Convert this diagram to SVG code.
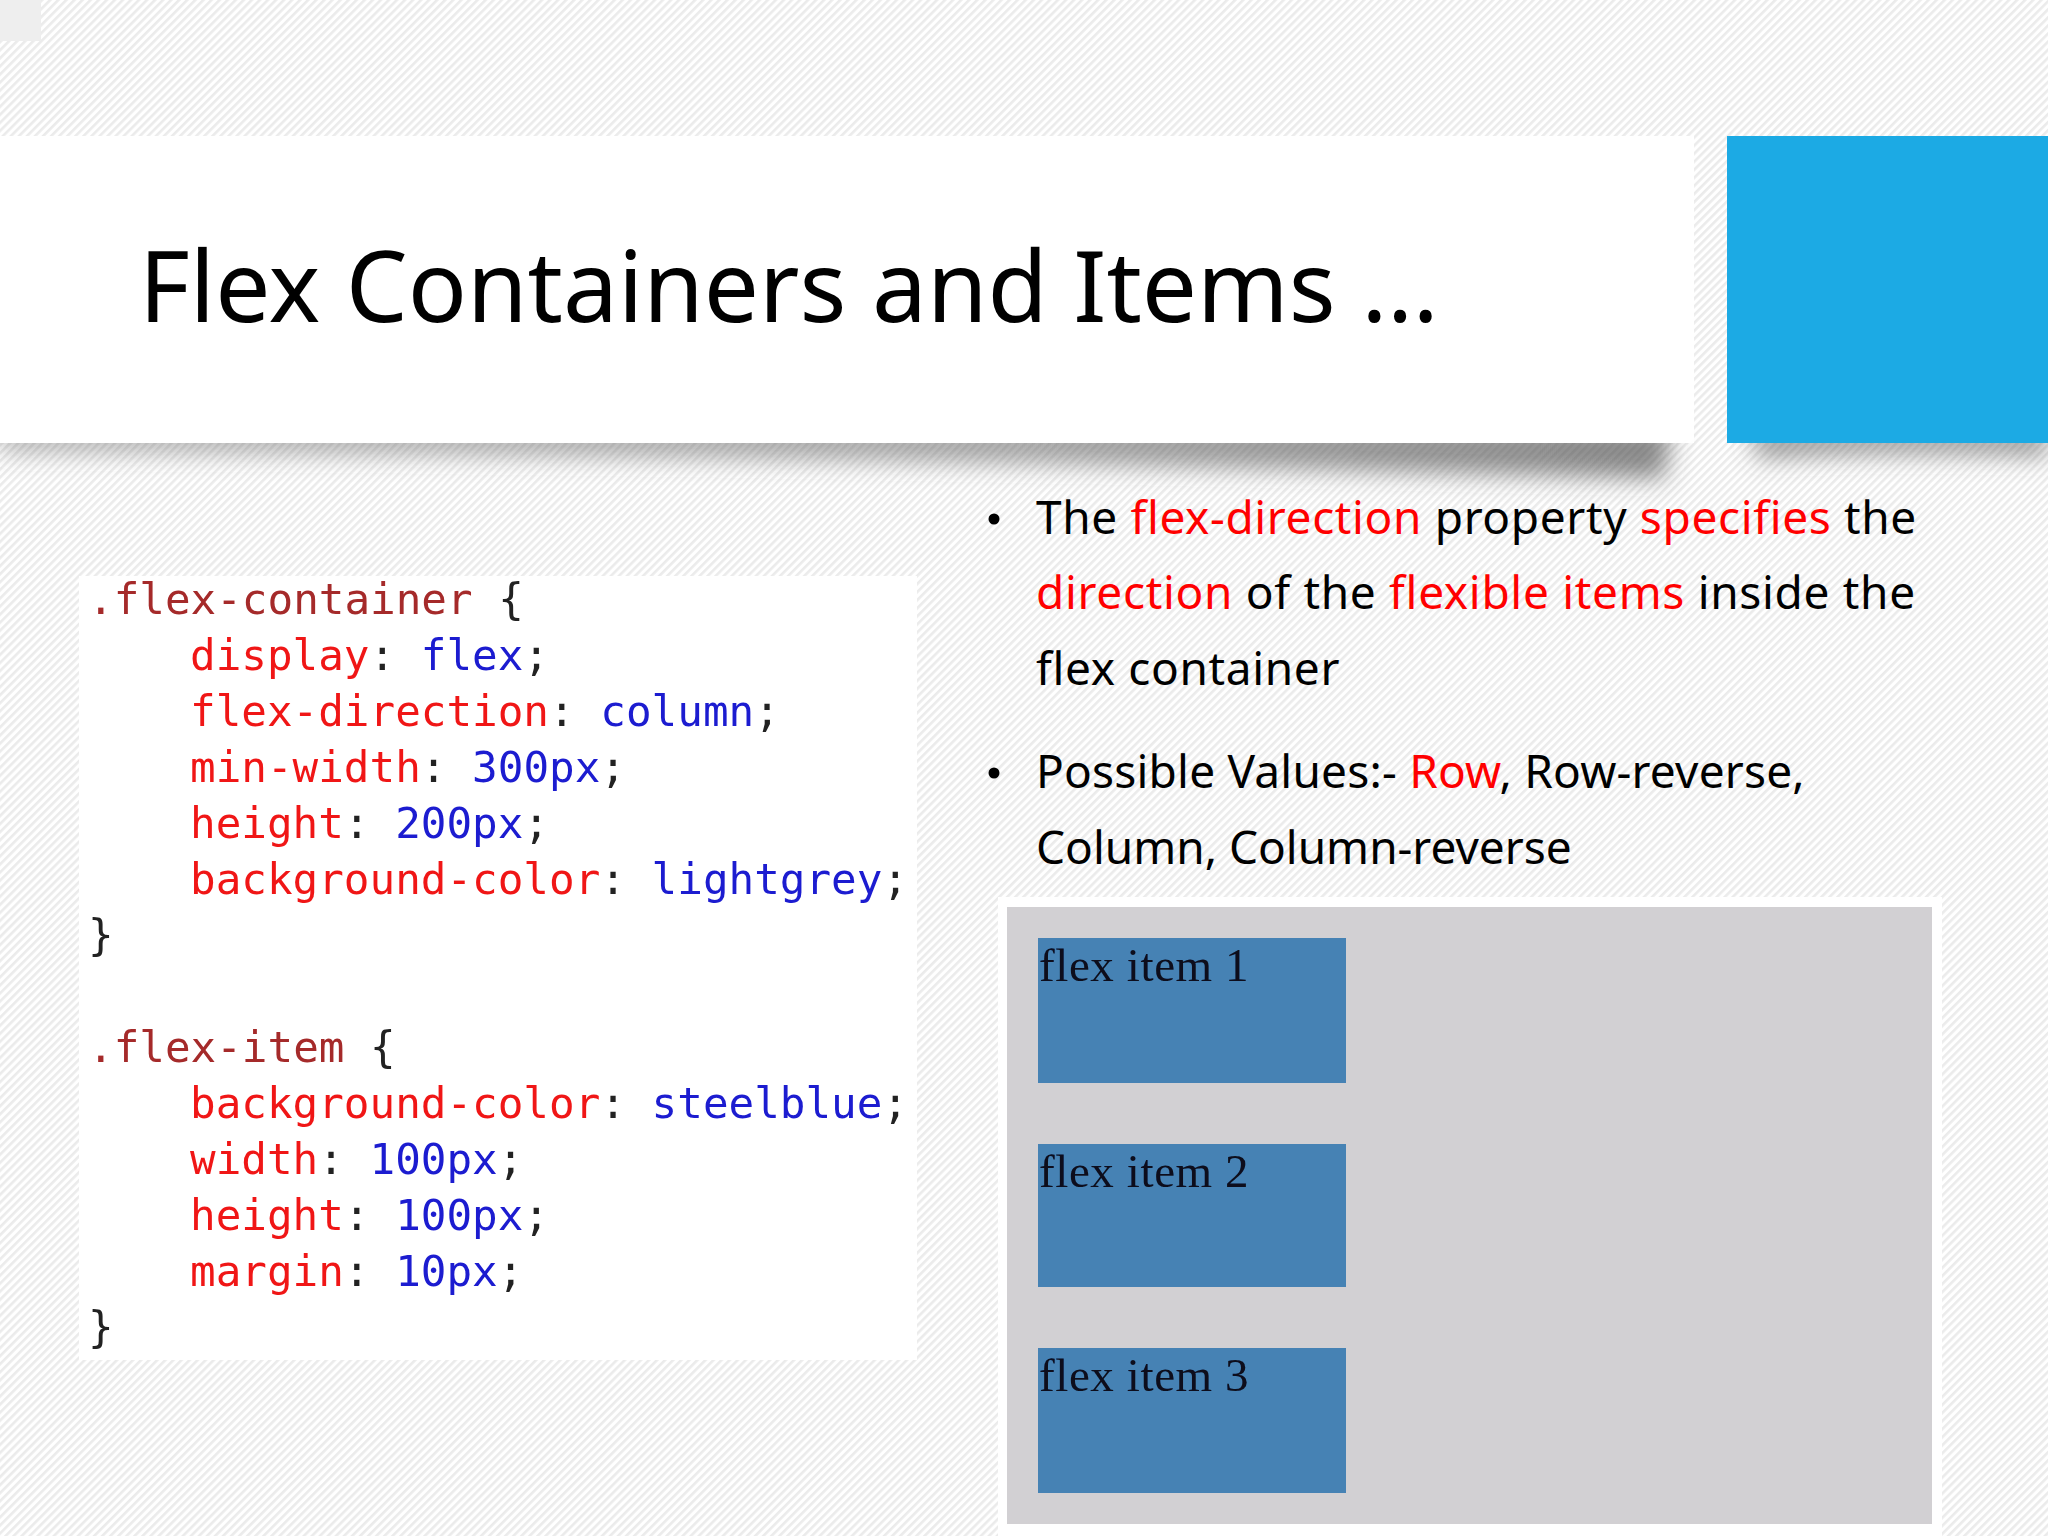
<svg xmlns="http://www.w3.org/2000/svg" width="2048" height="1536" viewBox="0 0 2048 1536">
<style>
.ui{font-family:"Noto Sans","Open Sans","DejaVu Sans",sans-serif;fill:#000}
.title{font-size:98px}
.body{font-size:46px}
.r{fill:#f00}
.code{font-family:"DejaVu Sans Mono","Liberation Mono",monospace;font-size:42.6px;fill:#222}
.code .s{fill:#a52a2a}.code .p{fill:#f01818}.code .v{fill:#1a1ad0}
.item{fill:#4682b4}
.it{font-family:"Liberation Serif","Times New Roman",serif;font-size:47px;letter-spacing:.6px;fill:#0a0a1a}
</style>
<defs>
<pattern id="stripes" width="5.7" height="5.7" patternUnits="userSpaceOnUse" patternTransform="rotate(-45)">
<rect width="5.7" height="5.7" fill="#ffffff"/>
<rect width="5.7" height="2.6" fill="#ebebeb"/>
</pattern>
<linearGradient id="shade" x1="0" x2="1" y1="0" y2="0">
<stop offset="0" stop-color="#555" stop-opacity=".42"/>
<stop offset="0.6" stop-color="#555" stop-opacity=".5"/>
<stop offset="1" stop-color="#444" stop-opacity=".62"/>
</linearGradient>
<filter id="blur" x="-10%" y="-100%" width="120%" height="300%"><feGaussianBlur stdDeviation="12"/></filter>
<filter id="soft" x="-2%" y="-2%" width="104%" height="104%"><feGaussianBlur stdDeviation="0.6"/></filter>
</defs>
<rect id="background" width="2048" height="1536" fill="url(#stripes)"/>
<rect id="corner" width="41" height="41" fill="#eeeeee"/>
<g id="shadows" filter="url(#blur)">
<path d="M0 425H1672L1664 478C1300 470 800 454 0 452Z" fill="url(#shade)"/>
<path d="M1752 430H2048V456C1950 452 1850 452 1756 458Z" fill="#555" fill-opacity=".6"/>
</g>
<g id="title-band">
<rect x="0" y="136" width="1694" height="307" fill="#ffffff"/>
<text class="ui title" x="139" y="322">Flex Containers and Items …</text>
</g>
<rect id="accent" x="1727" y="136" width="321" height="307" fill="#1caae4"/>
<g id="bullets">
<circle cx="994" cy="519" r="5.5"/>
<text class="ui body" x="1036" y="534" letter-spacing=".63">The <tspan class="r">flex-direction</tspan> property <tspan class="r">specifies</tspan> the</text>
<text class="ui body" x="1036" y="609" letter-spacing=".68"><tspan class="r">direction</tspan> of the <tspan class="r">flexible items</tspan> inside the</text>
<text class="ui body" x="1036" y="685" letter-spacing=".65">flex container</text>
<circle cx="994" cy="773" r="5.5"/>
<text class="ui body" x="1036" y="788" letter-spacing=".2">Possible Values:- <tspan class="r">Row</tspan>, Row-reverse,</text>
<text class="ui body" x="1036" y="864">Column, Column-reverse</text>
</g>
<g id="code-image">
<rect x="79" y="576" width="838" height="784" fill="#ffffff"/>
<g filter="url(#soft)">
<text class="code" x="88" y="614"><tspan class="s">.flex-container</tspan> {</text>
<text class="code" x="190" y="670"><tspan class="p">display</tspan>: <tspan class="v">flex</tspan>;</text>
<text class="code" x="190" y="726"><tspan class="p">flex-direction</tspan>: <tspan class="v">column</tspan>;</text>
<text class="code" x="190" y="782"><tspan class="p">min-width</tspan>: <tspan class="v">300px</tspan>;</text>
<text class="code" x="190" y="838"><tspan class="p">height</tspan>: <tspan class="v">200px</tspan>;</text>
<text class="code" x="190" y="894"><tspan class="p">background-color</tspan>: <tspan class="v">lightgrey</tspan>;</text>
<text class="code" x="88" y="950">}</text>
<text class="code" x="88" y="1062"><tspan class="s">.flex-item</tspan> {</text>
<text class="code" x="190" y="1118"><tspan class="p">background-color</tspan>: <tspan class="v">steelblue</tspan>;</text>
<text class="code" x="190" y="1174"><tspan class="p">width</tspan>: <tspan class="v">100px</tspan>;</text>
<text class="code" x="190" y="1230"><tspan class="p">height</tspan>: <tspan class="v">100px</tspan>;</text>
<text class="code" x="190" y="1286"><tspan class="p">margin</tspan>: <tspan class="v">10px</tspan>;</text>
<text class="code" x="88" y="1342">}</text>
</g>
</g>
<g id="flex-demo">
<rect x="998" y="897" width="944" height="639" fill="#ffffff"/>
<rect x="1007" y="907" width="925" height="617" fill="#d2d0d3"/>
<rect class="item" x="1038" y="938" width="308" height="145"/>
<rect class="item" x="1038" y="1144" width="308" height="143"/>
<rect class="item" x="1038" y="1348" width="308" height="145"/>
<g filter="url(#soft)">
<text class="it" x="1039" y="981">flex item 1</text>
<text class="it" x="1039" y="1187">flex item 2</text>
<text class="it" x="1039" y="1391">flex item 3</text>
</g>
</g>
</svg>
